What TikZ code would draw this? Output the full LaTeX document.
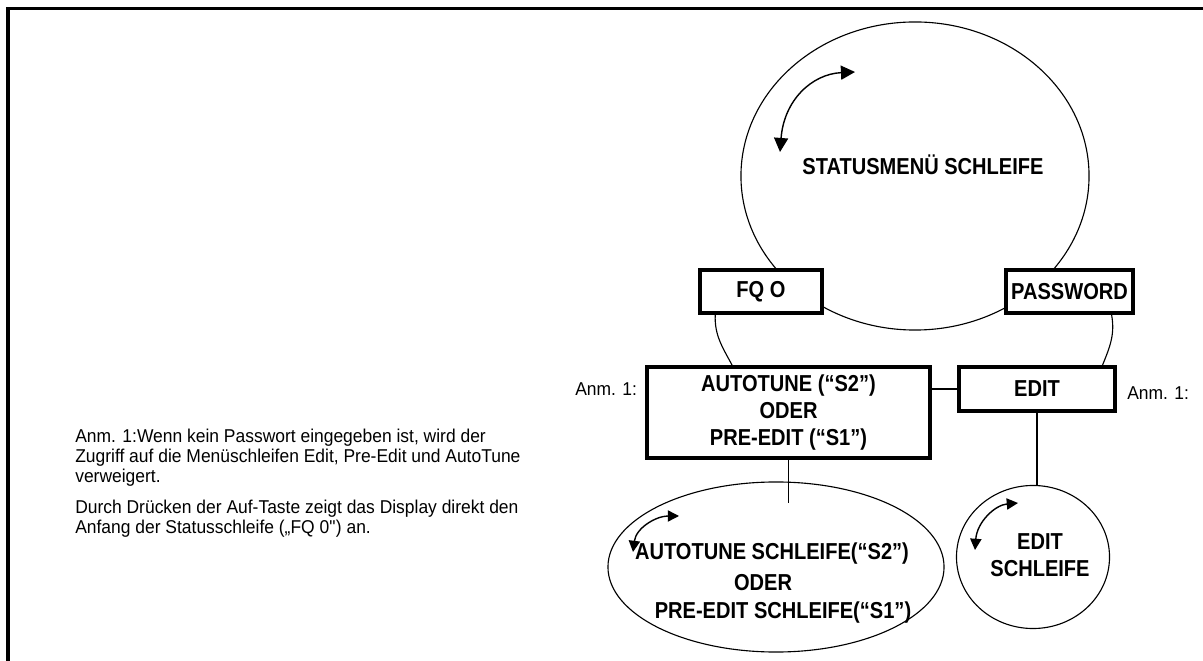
\documentclass[tikz,border=0pt]{standalone}
\usepackage{fontspec}
\setmainfont{Liberation Sans}
\newfontfamily\condsans[FakeStretch=0.87]{Liberation Sans}
\newfontfamily\condreg[FakeStretch=0.94]{Liberation Sans}
\usepackage{tikz}
\usetikzlibrary{shapes.geometric, arrows.meta, positioning}

\begin{document}
\begin{tikzpicture}[x=0.025cm, y=-0.025cm,
        every node/.style={inner sep=0pt},
        menubox/.style={draw, line width=2.6pt, fill=white, align=center,
            font=\condsans\bfseries\fontsize{16.4}{19}\selectfont},
        loopshape/.style={draw, ellipse, line width=0.8pt},
        looptext/.style={align=center, font=\condsans\bfseries\fontsize{16.4}{19}\selectfont},
        link/.style={line width=0.8pt},
        stem/.style={line width=1.4pt},
        turnarrow/.style={line width=1pt, {Triangle[length=#1,width=#1]}-{Triangle[length=#1,width=#1]}},
        remark/.style={align=left, font=\condreg\fontsize{13.2}{14.2}\selectfont}]
    \useasboundingbox (0,0) rectangle (1203,661);
    \draw[line width=2.6pt] (8,661) -- (8,8.5) -- (1203,8.5);

    \node (statusloop) [loopshape, minimum width=8.7cm, minimum height=7.7cm] at (915,176) {};
    \node (statuslabel) [looptext, anchor=base] at (923,175) {STATUSMENÜ SCHLEIFE};

    \node (fq) [menubox, minimum width=3.05cm, minimum height=1.075cm] at (761,291.5) {FQ O};
    \node (pw) [menubox, minimum width=3.175cm, minimum height=1.075cm] at (1069.5,291.5) {PASSWORD};
    \node (autotune) [menubox, minimum width=7.075cm, minimum height=2.275cm] at (788.5,412.5)
        {AUTOTUNE (“S2”)\\ODER\\PRE-EDIT (“S1”)};
    \node (edit) [menubox, minimum width=3.9cm, minimum height=1.1cm] at (1037,389) {EDIT};

    \node (autoloop) [loopshape, minimum width=8.4cm, minimum height=4.25cm] at (776,567) {};
    \node (autoline1) [looptext, anchor=base] at (772,560) {AUTOTUNE SCHLEIFE(“S2”)};
    \node (autoline2) [looptext, anchor=base] at (763,590) {ODER};
    \node (autoline3) [looptext, anchor=base] at (783,618) {PRE-EDIT SCHLEIFE(“S1”)};

    \node (editloop) [loopshape, minimum width=3.825cm, minimum height=3.575cm] at (1033,557) {};
    \node (editlabel) [looptext] at (1040,555) {EDIT\\SCHLEIFE};

    \draw[link] (fq.207) to[out=-92,in=118] (autotune.140);
    \draw[link] (pw.-29) to[out=-80,in=68] (edit.20);
    \draw[stem] (autotune.east |- edit.west) -- (edit.west);
    \coordinate (autotail) at (788.5,503);
    \draw[stem] (autotune.south) -- (autotail);
    \draw[stem] (edit.south) -- (edit.south |- editloop.north);

    \coordinate (s1) at (780,152);
    \coordinate (s2) at (855,72);
    \draw[turnarrow=10pt] (s1) .. controls (784,100) and (812,74) .. (s2);
    \coordinate (a1) at (633,552);
    \coordinate (a2) at (679,516);
    \draw[turnarrow=8pt] (a1) .. controls (636,528) and (656,516) .. (a2);
    \coordinate (e1) at (975,550);
    \coordinate (e2) at (1018,503);
    \draw[turnarrow=8pt] (e1) .. controls (977,522) and (995,505) .. (e2);

    \node (anmleft) [remark, anchor=base west] at (575,396) {Anm. 1:};
    \node (anmright) [remark, anchor=base west] at (1127,400) {Anm. 1:};
    \node (hint) [remark, anchor=north west] at (75,428.5)
        {Anm. 1:Wenn kein Passwort eingegeben ist, wird der\\
         Zugriff auf die Menüschleifen Edit, Pre-Edit und AutoTune\\
         verweigert.\\[7.8pt]
         Durch Drücken der Auf-Taste zeigt das Display direkt den\\
         Anfang der Statusschleife („FQ 0\textquotedbl) an.};
\end{tikzpicture}
\end{document}
